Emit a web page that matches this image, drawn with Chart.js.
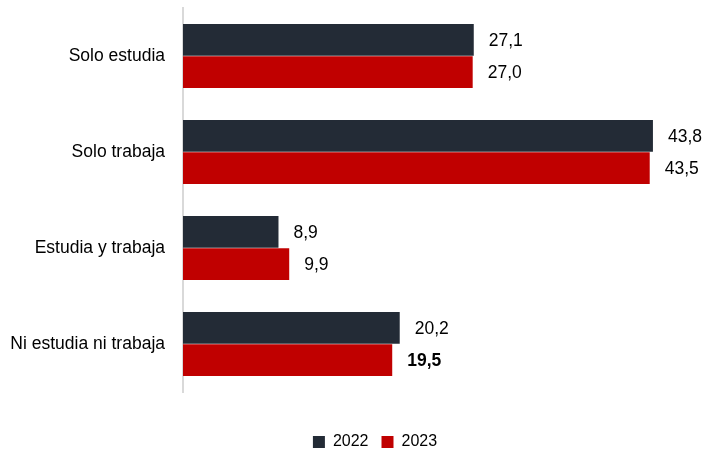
<!DOCTYPE html>
<html>
<head>
<meta charset="utf-8">
<script src="https://cdn.jsdelivr.net/npm/chart.js@4"></script>
<style>
  html, body { margin: 0; padding: 0; background: #fff; }
  #wrap { width: 706px; height: 451px; }
</style>
</head>
<body>
<div id="wrap"><canvas id="chart"></canvas></div>
<script>
const categories = ["Solo estudia", "Solo trabaja", "Estudia y trabaja", "Ni estudia ni trabaja"];
const values2022 = [27.1, 43.8, 8.9, 20.2];
const values2023 = [27.0, 43.5, 9.9, 19.5];
const seriesNames = ["2022", "2023"];

const FONT = "'Liberation Sans', Arial, sans-serif";
const fmt = v => v.toFixed(1).replace(".", ",");

// value labels drawn at the end of each bar
const valueLabels = {
    id: "valueLabels",
    afterDatasetsDraw(chart) {
        const ctx = chart.ctx;
        ctx.save();
        ctx.fillStyle = "#000";
        ctx.textBaseline = "middle";
        ctx.textAlign = "left";
        chart.data.datasets.forEach((ds, di) => {
            const meta = chart.getDatasetMeta(di);
            meta.data.forEach((bar, i) => {
                const bold = di === 1 && i === ds.data.length - 1;
                ctx.font = (bold ? "bold " : "") + "17.5px " + FONT;
                ctx.fillText(fmt(ds.data[i]), bar.x + 15, bar.y + 1);
            });
        });
        ctx.restore();
    }
};

// push the legend down into the bottom gap and a bit to the right
const legendShift = {
    id: "legendShift",
    afterLayout(chart) {
        const lg = chart.legend;
        lg.top += 29;
        lg.bottom += 29;
        lg.left += 26;
        lg.right += 26;
    }
};

new Chart(document.getElementById("chart"), {
    type: "bar",
    data: {
        labels: categories,
        datasets: [
            { label: seriesNames[0], data: values2022, backgroundColor: "#232b36" },
            { label: seriesNames[1], data: values2023, backgroundColor: "#c00000" }
        ]
    },
    options: {
        indexAxis: "y",
        responsive: true,
        maintainAspectRatio: false,
        animation: false,
        categoryPercentage: 0.67,
        barPercentage: 0.99,
        layout: { autoPadding: false, padding: { top: 8, right: 8, left: 0, bottom: 20 } },
        scales: {
            x: {
                display: false,
                min: 0,
                max: 48
            },
            y: {
                grid: { display: false },
                border: { display: true, color: "#d9d9d9", width: 2 },
                ticks: {
                    color: "#000",
                    padding: 10,
                    font: { family: FONT, size: 17.5 }
                },
                afterFit(scale) {
                    scale.width = 183;
                    scale.paddingTop = 0;
                    scale.paddingBottom = 0;
                }
            }
        },
        plugins: {
            legend: {
                position: "bottom",
                labels: {
                    color: "#000",
                    boxWidth: 12,
                    boxHeight: 12,
                    padding: 13,
                    font: { family: FONT, size: 16 }
                }
            },
            tooltip: { enabled: false }
        }
    },
    plugins: [valueLabels, legendShift]
});
</script>
</body>
</html>
